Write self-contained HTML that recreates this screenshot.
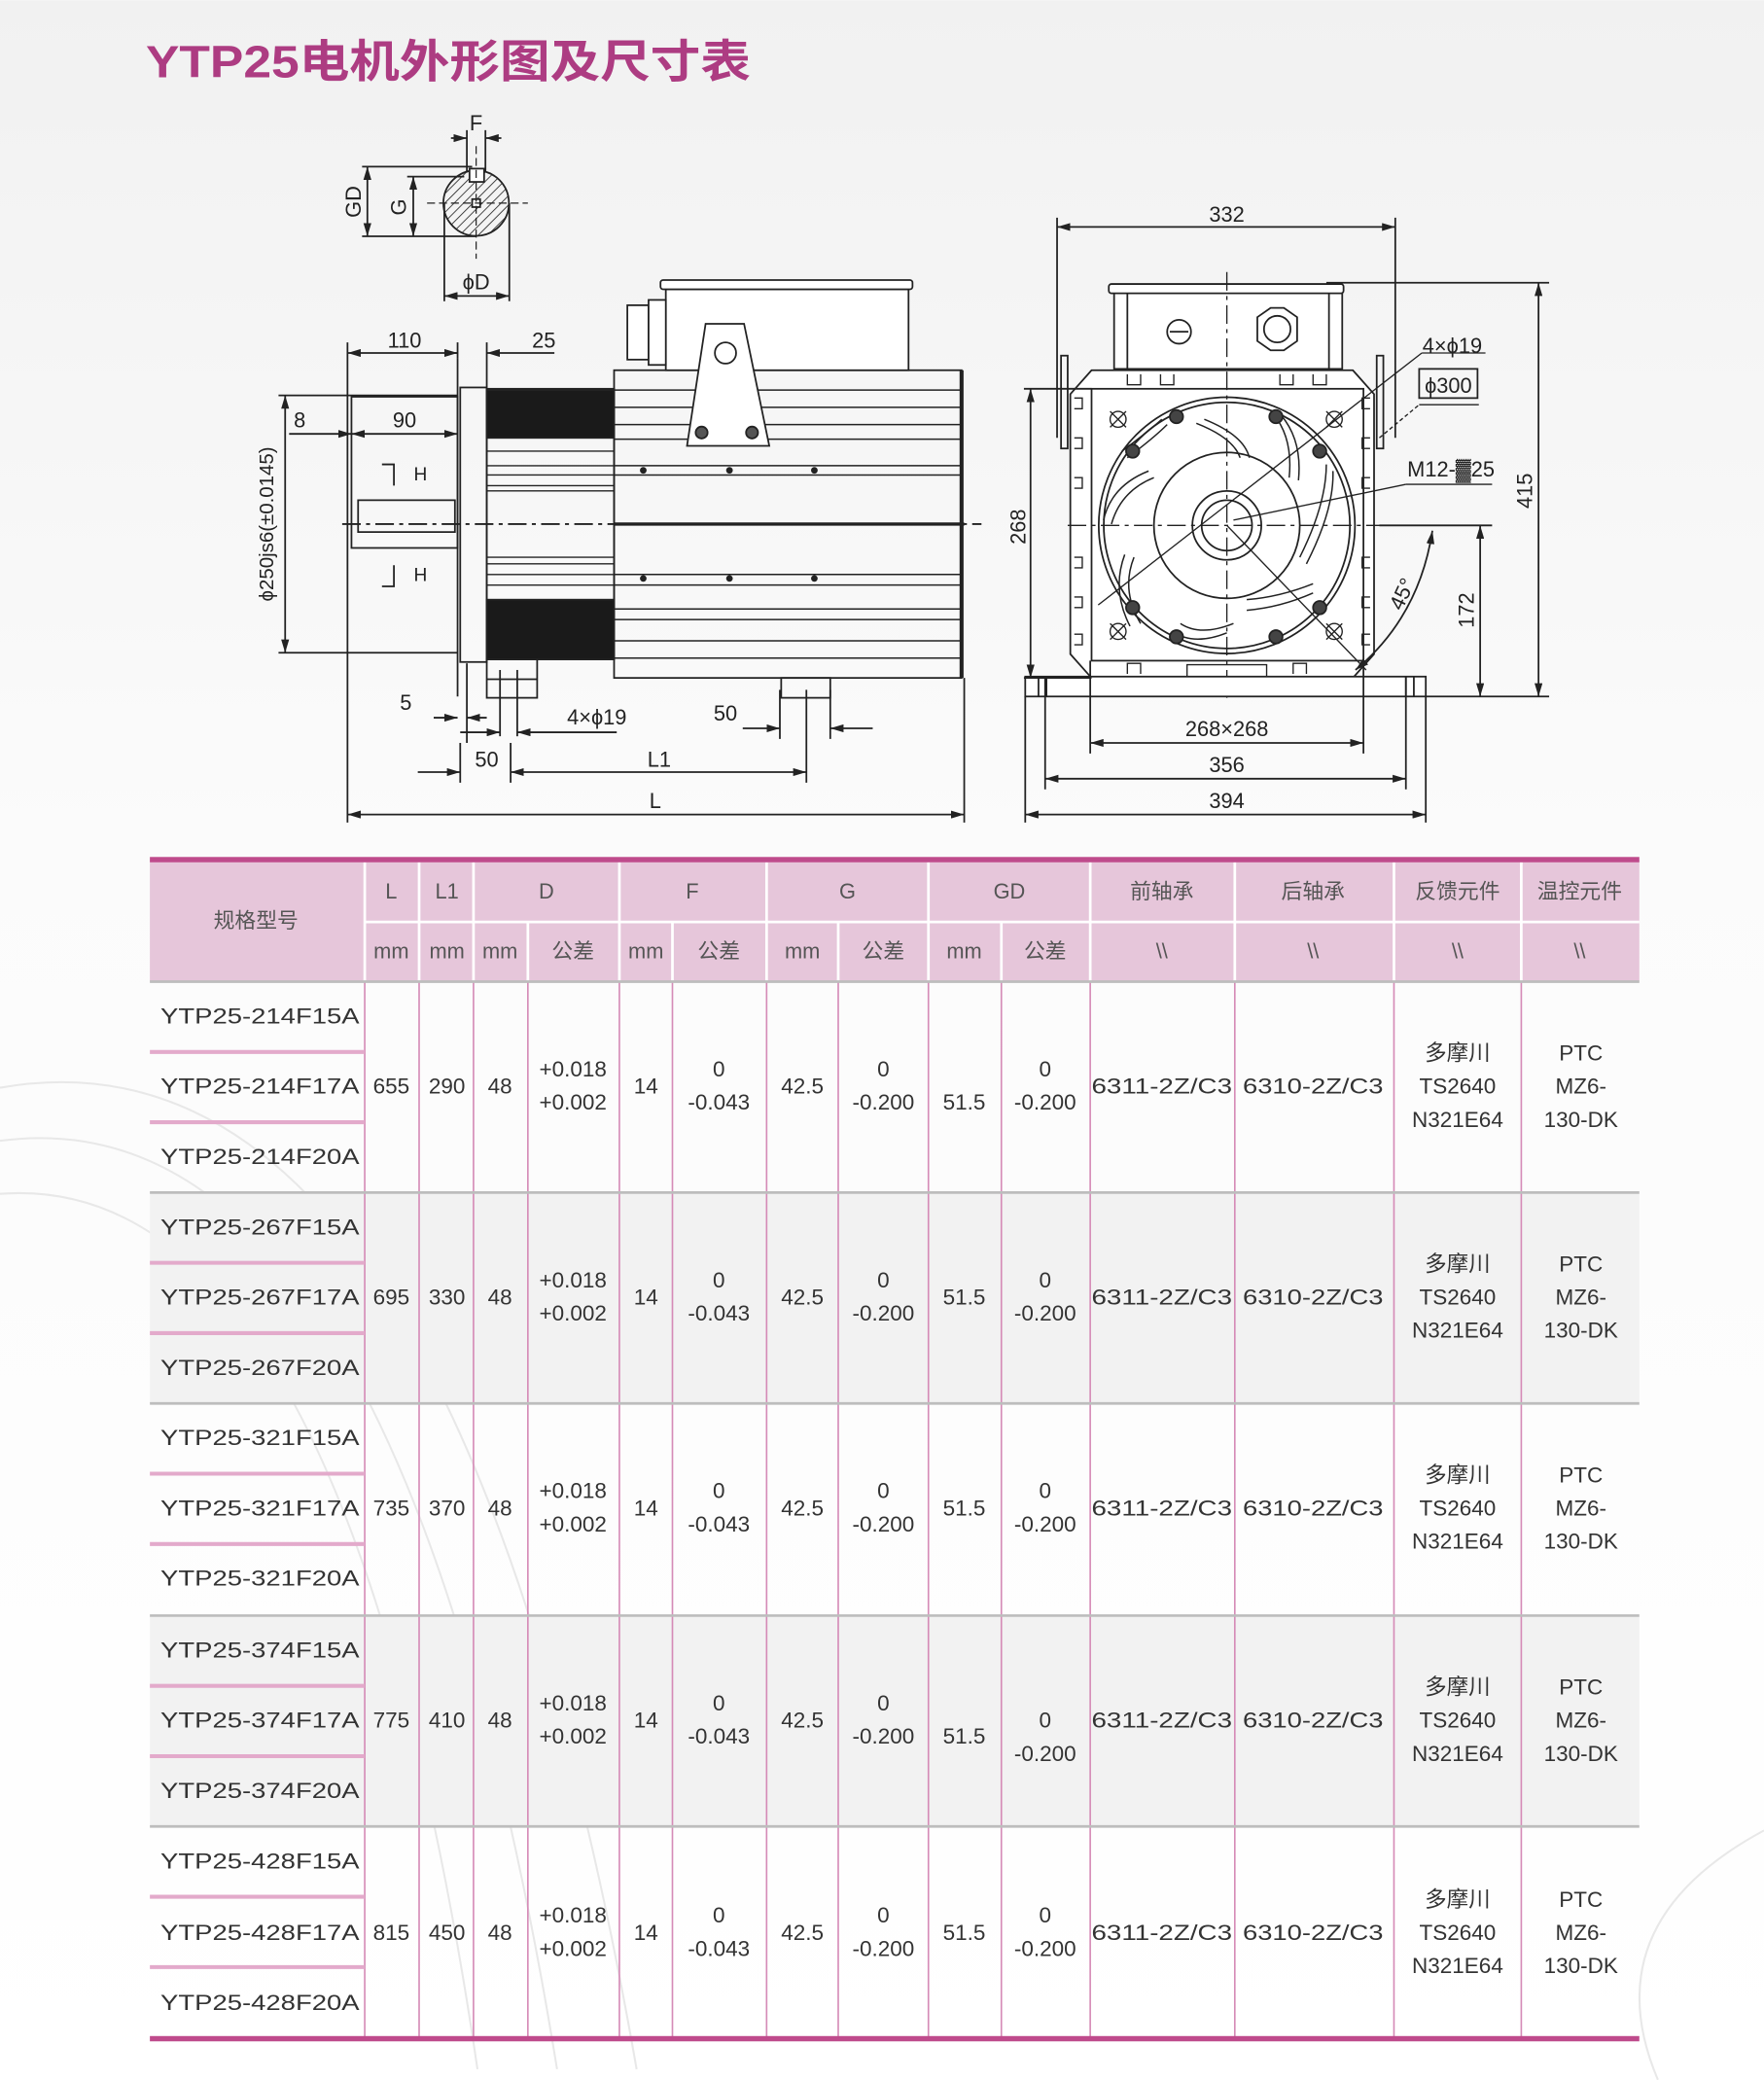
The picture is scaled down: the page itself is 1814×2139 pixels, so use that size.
<!DOCTYPE html>
<html><head><meta charset="utf-8"><style>
html,body{margin:0;padding:0;width:1814px;height:2139px;overflow:hidden;background:#fff}
svg{display:block}
text{font-family:"Liberation Sans","Noto Sans CJK SC",sans-serif}
</style></head><body>
<svg width="1814" height="2139" viewBox="0 0 1330 1568" xmlns="http://www.w3.org/2000/svg">
<defs>
<linearGradient id="bg" x1="0" y1="0" x2="0" y2="1">
<stop offset="0" stop-color="#f1f1f1"/><stop offset="0.4" stop-color="#fbfbfb"/><stop offset="1" stop-color="#ffffff"/>
</linearGradient>
<marker id="a" viewBox="0 0 10 6" refX="10" refY="3" markerWidth="10" markerHeight="6" orient="auto-start-reverse" markerUnits="userSpaceOnUse"><path d="M0,0L10,3L0,6z" fill="#222"/></marker>
<pattern id="h" width="5" height="5" patternUnits="userSpaceOnUse" patternTransform="rotate(45)"><line x1="0" y1="0" x2="0" y2="5" stroke="#222" stroke-width="1.2"/></pattern>
</defs>
<rect width="1330" height="1568" fill="url(#bg)"/>
<g fill="none" stroke="#e8e8e8" stroke-width="1.5">
<path d="M0,860 Q300,820 420,1560"/><path d="M0,900 Q260,880 360,1560"/><path d="M0,820 Q340,760 480,1560"/>
<path d="M1330,1380 Q1200,1450 1250,1568"/>
</g>
<text x="110" y="58" font-size="34" font-weight="bold" fill="#ad3c82" textLength="456" lengthAdjust="spacingAndGlyphs">YTP25电机外形图及尺寸表</text>

<!-- ===== DRAWING ===== -->
<g stroke="#222" stroke-width="1.3" fill="none">
<!-- shaft section -->
<circle cx="359" cy="153" r="24.7" fill="url(#h)"/>
<rect x="354" y="127" width="11" height="10" fill="#fff"/>
<rect x="356" y="150" width="6" height="6" fill="#fff"/>
<line x1="322" y1="153" x2="398" y2="153" stroke-dasharray="6,3" stroke-width="0.9"/>
<line x1="359" y1="110" x2="359" y2="195" stroke-dasharray="6,3" stroke-width="0.9"/>
<line x1="273" y1="125.5" x2="356" y2="125.5"/>
<line x1="273" y1="178" x2="359" y2="178"/>
<line x1="277" y1="125.5" x2="277" y2="178" marker-start="url(#a)" marker-end="url(#a)"/>
<line x1="307" y1="133" x2="350" y2="133"/>
<line x1="311.6" y1="133" x2="311.6" y2="178" marker-start="url(#a)" marker-end="url(#a)"/>
<line x1="352" y1="98" x2="352" y2="130"/><line x1="366" y1="98" x2="366" y2="130"/>
<line x1="340" y1="104" x2="352" y2="104" marker-end="url(#a)"/><line x1="378" y1="104" x2="366" y2="104" marker-end="url(#a)"/>
<line x1="335" y1="153" x2="335" y2="227"/><line x1="384" y1="153" x2="384" y2="227"/>
<line x1="335" y1="223" x2="384" y2="223" marker-start="url(#a)" marker-end="url(#a)"/>

<!-- side view -->
<rect x="265" y="299" width="80" height="114"/>
<path d="M270,377 H343 V401 H270 Z"/>
<line x1="258" y1="395" x2="740" y2="395" stroke-dasharray="14,4,3,4"/>
<rect x="347" y="292" width="20" height="207"/>
<line x1="345" y1="270" x2="345" y2="525"/>
<rect x="367" y="293" width="96" height="204"/>
<rect x="367" y="294" width="96" height="36" fill="#1a1a1a"/>
<rect x="367" y="452" width="96" height="45" fill="#1a1a1a"/>
<g stroke-width="1"><line x1="367" y1="340" x2="463" y2="340"/><line x1="367" y1="351" x2="463" y2="351"/><line x1="367" y1="358" x2="463" y2="358"/><line x1="367" y1="366" x2="463" y2="366"/><line x1="367" y1="370" x2="463" y2="370"/><line x1="367" y1="420" x2="463" y2="420"/><line x1="367" y1="425" x2="463" y2="425"/><line x1="367" y1="433" x2="463" y2="433"/><line x1="367" y1="441" x2="463" y2="441"/></g>
<rect x="463" y="279" width="262" height="232"/>
<g stroke-width="1.1"><line x1="463" y1="294" x2="725" y2="294"/><line x1="463" y1="307" x2="725" y2="307"/><line x1="463" y1="320" x2="725" y2="320"/><line x1="463" y1="331" x2="725" y2="331"/><line x1="463" y1="351" x2="725" y2="351"/><line x1="463" y1="358" x2="725" y2="358"/><line x1="463" y1="433" x2="725" y2="433"/><line x1="463" y1="441" x2="725" y2="441"/><line x1="463" y1="459" x2="725" y2="459"/><line x1="463" y1="467" x2="725" y2="467"/><line x1="463" y1="483" x2="725" y2="483"/><line x1="463" y1="496" x2="725" y2="496"/></g>
<line x1="463" y1="395" x2="727" y2="395" stroke-width="2.5"/>
<line x1="725" y1="279" x2="725" y2="511" stroke-width="3"/>
<g fill="#222" stroke="none"><circle cx="485" cy="354.5" r="2.5"/><circle cx="550" cy="354.5" r="2.5"/><circle cx="614" cy="354.5" r="2.5"/><circle cx="485" cy="436" r="2.5"/><circle cx="550" cy="436" r="2.5"/><circle cx="614" cy="436" r="2.5"/></g>
<rect x="502" y="218" width="183" height="61" fill="#fff"/>
<rect x="498" y="211" width="190" height="7" rx="2" fill="#fff"/>
<rect x="473" y="230" width="16" height="41" fill="#fff"/><rect x="489" y="226" width="13" height="49" fill="#fff"/>
<path d="M518,336 L532,244 H561 L580,336 Z" fill="#fff"/>
<circle cx="547" cy="266" r="8"/>
<circle cx="529" cy="326" r="4.5" fill="#555"/><circle cx="567" cy="326" r="4.5" fill="#555"/>
<rect x="367" y="497" width="38" height="29"/><line x1="367" y1="512" x2="405" y2="512"/>
<rect x="589" y="511" width="37" height="15"/>
<!-- side dims -->
<line x1="262" y1="258" x2="262" y2="620"/>
<line x1="345" y1="258" x2="345" y2="270"/>
<line x1="367" y1="258" x2="367" y2="292"/>
<line x1="727" y1="511" x2="727" y2="620"/>
<line x1="262" y1="266" x2="345" y2="266" marker-start="url(#a)" marker-end="url(#a)"/>
<line x1="367" y1="266" x2="418" y2="266" marker-start="url(#a)"/>
<line x1="335" y1="266" x2="345" y2="266"/>
<line x1="210" y1="298" x2="345" y2="298"/><line x1="210" y1="492" x2="345" y2="492"/>
<line x1="215" y1="298" x2="215" y2="492" marker-start="url(#a)" marker-end="url(#a)"/>
<line x1="218" y1="327" x2="265" y2="327" marker-end="url(#a)"/>
<line x1="265" y1="327" x2="345" y2="327" marker-start="url(#a)" marker-end="url(#a)"/>
<path d="M288,350 H297 V366"/><path d="M288,442 H297 V426"/>
<line x1="327" y1="541" x2="345" y2="541" marker-end="url(#a)"/><line x1="367" y1="541" x2="352" y2="541" marker-end="url(#a)"/>
<line x1="352" y1="500" x2="352" y2="560"/>
<line x1="377" y1="505" x2="377" y2="555"/><line x1="390" y1="505" x2="390" y2="555"/>
<line x1="347" y1="552" x2="377" y2="552" marker-end="url(#a)"/>
<line x1="390" y1="552" x2="465" y2="552" marker-start="url(#a)"/>
<line x1="588" y1="520" x2="588" y2="557"/><line x1="626" y1="520" x2="626" y2="557"/>
<line x1="560" y1="549" x2="588" y2="549" marker-end="url(#a)"/>
<line x1="658" y1="549" x2="626" y2="549" marker-end="url(#a)"/>
<line x1="347" y1="560" x2="347" y2="590"/>
<line x1="385" y1="560" x2="385" y2="590"/><line x1="608" y1="520" x2="608" y2="590"/>
<line x1="315" y1="582" x2="347" y2="582" marker-end="url(#a)"/>
<line x1="385" y1="582" x2="608" y2="582" marker-start="url(#a)" marker-end="url(#a)"/>
<line x1="262" y1="614" x2="727" y2="614" marker-start="url(#a)" marker-end="url(#a)"/>

<!-- end view -->
<path d="M830,279 H1020 L1036,297 V493 L1020,511 H823 L807,493 V297 L823,279 Z" fill="#fff"/>
<rect x="823" y="293" width="205" height="205"/>
<g stroke-width="1">
<path d="M810,300 h6 v8 h-6 M810,330 h6 v8 h-6 M810,360 h6 v8 h-6 M810,420 h6 v8 h-6 M810,450 h6 v8 h-6 M810,478 h6 v8 h-6"/>
<path d="M1033,300 h-6 v8 h6 M1033,330 h-6 v8 h6 M1033,360 h-6 v8 h6 M1033,420 h-6 v8 h6 M1033,450 h-6 v8 h6 M1033,478 h-6 v8 h6"/>
<path d="M850,282 v8 h10 v-8 M875,282 v8 h10 v-8 M965,282 v8 h10 v-8 M990,282 v8 h10 v-8"/>
<path d="M850,508 v-8 h10 v8 M975,508 v-8 h10 v8 M895,511 v-10 h60 v10"/>
</g>
<rect x="840" y="221" width="172" height="57" fill="#fff"/>
<rect x="836" y="214" width="177" height="7" rx="2" fill="#fff"/>
<line x1="850" y1="221" x2="850" y2="278"/><line x1="1002" y1="221" x2="1002" y2="278"/>
<circle cx="889" cy="250" r="9"/><line x1="882" y1="250" x2="896" y2="250"/>
<path d="M948,239 L958,232 H968 L978,239 V257 L968,264 H958 L948,257 Z"/><circle cx="963" cy="248" r="10"/>
<rect x="800" y="268" width="5" height="70"/><rect x="1038" y="268" width="5" height="70"/>
<circle cx="925" cy="396" r="96.6"/><circle cx="925" cy="396" r="92.8"/>
<circle cx="925" cy="396" r="55"/><circle cx="925" cy="396" r="26"/><circle cx="925" cy="396" r="19"/>
<g stroke-width="1.1">
<path d="M902,319 Q930,330 935,345 M960,312 Q975,330 972,360 M1000,350 Q1000,380 980,420 M990,440 Q965,450 940,452 M930,470 Q905,480 890,470 M860,470 Q845,445 855,420 M838,395 Q845,370 870,360 M850,345 Q870,330 880,320"/>
<path d="M908,316 Q938,328 942,345 M966,313 Q982,332 979,362 M1005,355 Q1006,384 985,425 M990,447 Q965,458 940,460 M925,477 Q900,487 884,476 M852,472 Q838,445 848,418 M832,392 Q838,366 866,355 M846,340 Q866,325 876,316"/>
</g>
<g stroke-width="1"><line x1="925" y1="205" x2="925" y2="530" stroke-dasharray="14,4,3,4"/><line x1="805" y1="396" x2="1120" y2="396" stroke-dasharray="14,4,3,4"/></g>
<g fill="#444" stroke="#222">
<circle cx="854" cy="340" r="5"/><circle cx="995" cy="340" r="5"/><circle cx="854" cy="458" r="5"/><circle cx="995" cy="458" r="5"/>
<circle cx="887" cy="314" r="5"/><circle cx="962" cy="314" r="5"/><circle cx="887" cy="480" r="5"/><circle cx="962" cy="480" r="5"/>
</g>
<g stroke-width="1"><circle cx="843" cy="316" r="6"/><path d="M837,310 l12,12 M849,310 l-12,12"/>
<circle cx="1006" cy="316" r="6"/><path d="M1000,310 l12,12 M1012,310 l-12,12"/>
<circle cx="843" cy="476" r="6"/><path d="M837,470 l12,12 M849,470 l-12,12"/>
<circle cx="1006" cy="476" r="6"/><path d="M1000,470 l12,12 M1012,470 l-12,12"/></g>
<rect x="773" y="510" width="302" height="15" fill="#fff"/>
<line x1="783" y1="510" x2="783" y2="525"/><line x1="789" y1="510" x2="789" y2="525"/>
<line x1="1060" y1="510" x2="1060" y2="525"/><line x1="1066" y1="510" x2="1066" y2="525"/>
<!-- end dims -->
<line x1="797" y1="164" x2="797" y2="330"/><line x1="1052" y1="164" x2="1052" y2="330"/>
<line x1="797" y1="171" x2="1052" y2="171" marker-start="url(#a)" marker-end="url(#a)"/>
<line x1="772" y1="293" x2="823" y2="293"/><line x1="772" y1="511" x2="823" y2="511"/>
<line x1="777" y1="293" x2="777" y2="511" marker-start="url(#a)" marker-end="url(#a)"/>
<line x1="1000" y1="213" x2="1168" y2="213"/><line x1="1075" y1="525" x2="1168" y2="525"/>
<line x1="1160" y1="213" x2="1160" y2="525" marker-start="url(#a)" marker-end="url(#a)"/>
<line x1="1040" y1="396" x2="1125" y2="396"/>
<line x1="1116" y1="396" x2="1116" y2="525" marker-start="url(#a)" marker-end="url(#a)"/>
<path d="M1080,400 Q1070,465 1022,505" marker-start="url(#a)" marker-end="url(#a)"/>
<line x1="925" y1="396" x2="1030" y2="505" stroke-width="1"/>
<line x1="822" y1="498" x2="822" y2="568"/><line x1="1028" y1="498" x2="1028" y2="568"/>
<line x1="822" y1="560" x2="1028" y2="560" marker-start="url(#a)" marker-end="url(#a)"/>
<line x1="788" y1="510" x2="788" y2="595"/><line x1="1060" y1="510" x2="1060" y2="595"/>
<line x1="788" y1="587" x2="1060" y2="587" marker-start="url(#a)" marker-end="url(#a)"/>
<line x1="773" y1="525" x2="773" y2="620"/><line x1="1075" y1="525" x2="1075" y2="620"/>
<line x1="773" y1="614" x2="1075" y2="614" marker-start="url(#a)" marker-end="url(#a)"/>
<line x1="828" y1="456" x2="1072" y2="266" stroke-width="1"/>
<line x1="1072" y1="266" x2="1120" y2="266" stroke-width="1"/>
<rect x="1070" y="278" width="44" height="22"/>
<line x1="1070" y1="305" x2="1115" y2="305" stroke-width="1"/>
<line x1="1040" y1="330" x2="1070" y2="305" stroke-width="1" stroke-dasharray="3,2"/>
<line x1="930" y1="392" x2="1060" y2="365" stroke-width="1"/><line x1="1060" y1="365" x2="1125" y2="365" stroke-width="1"/>
</g>
<g font-size="16" fill="#222" font-family="Liberation Sans Narrow, Liberation Sans, sans-serif">
<text x="354" y="98">F</text>
<text transform="translate(272,152) rotate(-90)" text-anchor="middle">GD</text>
<text transform="translate(306,156) rotate(-90)" text-anchor="middle">G</text>
<text x="359" y="218" text-anchor="middle">ϕD</text>
<text x="305" y="262" text-anchor="middle">110</text>
<text x="410" y="262" text-anchor="middle">25</text>
<text x="226" y="322" text-anchor="middle">8</text>
<text x="305" y="322" text-anchor="middle">90</text>
<text x="312" y="362" font-size="14">H</text><text x="312" y="438" font-size="14">H</text>
<text transform="translate(206,395) rotate(-90)" text-anchor="middle" font-size="15">ϕ250js6(±0.0145)</text>
<text x="306" y="535" text-anchor="middle">5</text>
<text x="450" y="546" text-anchor="middle">4×ϕ19</text>
<text x="547" y="543" text-anchor="middle">50</text>
<text x="367" y="578" text-anchor="middle">50</text>
<text x="497" y="578" text-anchor="middle">L1</text>
<text x="494" y="609" text-anchor="middle">L</text>
<text x="925" y="167" text-anchor="middle">332</text>
<text x="1095" y="266" text-anchor="middle">4×ϕ19</text>
<text x="1092" y="296" text-anchor="middle">ϕ300</text>
<text x="1094" y="359" text-anchor="middle">M12-▓25</text>
<text transform="translate(773,397) rotate(-90)" text-anchor="middle">268</text>
<text transform="translate(1155,370) rotate(-90)" text-anchor="middle">415</text>
<text transform="translate(1111,460) rotate(-90)" text-anchor="middle">172</text>
<text transform="translate(1062,450) rotate(-65)" text-anchor="middle">45°</text>
<text x="925" y="555" text-anchor="middle">268×268</text>
<text x="925" y="582" text-anchor="middle">356</text>
<text x="925" y="609" text-anchor="middle">394</text>
</g>

<!-- ===== TABLE ===== -->
<rect x="113" y="648" width="1123" height="92" fill="#e6c6da"/>
<rect x="113" y="899" width="1123" height="159" fill="#f2f2f2"/>
<rect x="113" y="1218" width="1123" height="159" fill="#f2f2f2"/>
<g stroke="#fff" stroke-width="2">
<line x1="275" y1="695" x2="1236" y2="695"/>
<line x1="275" y1="650" x2="275" y2="740"/><line x1="316" y1="650" x2="316" y2="740"/><line x1="357" y1="650" x2="357" y2="740"/>
<line x1="398" y1="695" x2="398" y2="740"/><line x1="467" y1="650" x2="467" y2="740"/><line x1="507" y1="695" x2="507" y2="740"/>
<line x1="578" y1="650" x2="578" y2="740"/><line x1="632" y1="695" x2="632" y2="740"/><line x1="700" y1="650" x2="700" y2="740"/>
<line x1="755" y1="695" x2="755" y2="740"/><line x1="822" y1="650" x2="822" y2="740"/><line x1="931" y1="650" x2="931" y2="740"/>
<line x1="1051" y1="650" x2="1051" y2="740"/><line x1="1147" y1="650" x2="1147" y2="740"/>
</g>
<g stroke="#d58bb7" stroke-width="1.2">
<line x1="275" y1="740" x2="275" y2="1536"/><line x1="316" y1="740" x2="316" y2="1536"/><line x1="357" y1="740" x2="357" y2="1536"/>
<line x1="398" y1="740" x2="398" y2="1536"/><line x1="467" y1="740" x2="467" y2="1536"/><line x1="507" y1="740" x2="507" y2="1536"/>
<line x1="578" y1="740" x2="578" y2="1536"/><line x1="632" y1="740" x2="632" y2="1536"/><line x1="700" y1="740" x2="700" y2="1536"/>
<line x1="755" y1="740" x2="755" y2="1536"/><line x1="822" y1="740" x2="822" y2="1536"/><line x1="931" y1="740" x2="931" y2="1536"/>
<line x1="1051" y1="740" x2="1051" y2="1536"/><line x1="1147" y1="740" x2="1147" y2="1536"/>
</g>
<g stroke="#bdbdbd" stroke-width="2">
<line x1="113" y1="740" x2="1236" y2="740"/><line x1="113" y1="899" x2="1236" y2="899"/><line x1="113" y1="1058" x2="1236" y2="1058"/>
<line x1="113" y1="1218" x2="1236" y2="1218"/><line x1="113" y1="1377" x2="1236" y2="1377"/>
</g>
<g stroke="#e3aacb" stroke-width="3">
<line x1="113" y1="793" x2="275" y2="793"/><line x1="113" y1="846" x2="275" y2="846"/>
<line x1="113" y1="952" x2="275" y2="952"/><line x1="113" y1="1005" x2="275" y2="1005"/>
<line x1="113" y1="1111" x2="275" y2="1111"/><line x1="113" y1="1164" x2="275" y2="1164"/>
<line x1="113" y1="1271" x2="275" y2="1271"/><line x1="113" y1="1324" x2="275" y2="1324"/>
<line x1="113" y1="1430" x2="275" y2="1430"/><line x1="113" y1="1483" x2="275" y2="1483"/>
</g>
<rect x="113" y="646" width="1123" height="4" fill="#bf4b8c"/>
<rect x="113" y="1535" width="1123" height="4" fill="#bf4b8c"/>

<g font-size="16" fill="#555" text-anchor="middle" dominant-baseline="central">
<text x="193" y="694">规格型号</text>
<text x="295" y="672">L</text><text x="337" y="672">L1</text><text x="412" y="672">D</text><text x="522" y="672">F</text>
<text x="639" y="672">G</text><text x="761" y="672">GD</text><text x="876" y="672">前轴承</text><text x="990" y="672">后轴承</text>
<text x="1099" y="672">反馈元件</text><text x="1191" y="672">温控元件</text>
<text x="295" y="717">mm</text><text x="337" y="717">mm</text><text x="377" y="717">mm</text><text x="432" y="717">公差</text>
<text x="487" y="717">mm</text><text x="542" y="717">公差</text><text x="605" y="717">mm</text><text x="666" y="717">公差</text>
<text x="727" y="717">mm</text><text x="788" y="717">公差</text>
<text x="876" y="717">\\</text><text x="990" y="717">\\</text><text x="1099" y="717">\\</text><text x="1191" y="717">\\</text>
</g>

<g font-size="16.5" fill="#333" text-anchor="middle" dominant-baseline="central">
<g transform="translate(0,740)">
<text x="121" y="26" text-anchor="start" textLength="150" lengthAdjust="spacingAndGlyphs">YTP25-214F15A</text>
<text x="121" y="79" text-anchor="start" textLength="150" lengthAdjust="spacingAndGlyphs">YTP25-214F17A</text>
<text x="121" y="132" text-anchor="start" textLength="150" lengthAdjust="spacingAndGlyphs">YTP25-214F20A</text>
<text x="295" y="79">655</text><text x="337" y="79">290</text><text x="377" y="79">48</text>
<text x="432" y="66">+0.018</text><text x="432" y="91">+0.002</text><text x="487" y="79">14</text>
<text x="542" y="66">0</text><text x="542" y="91">-0.043</text><text x="605" y="79">42.5</text>
<text x="666" y="66">0</text><text x="666" y="91">-0.200</text><text x="727" y="91">51.5</text>
<text x="788" y="66">0</text><text x="788" y="91">-0.200</text>
<text x="876" y="79" textLength="106" lengthAdjust="spacingAndGlyphs">6311-2Z/C3</text><text x="990" y="79" textLength="106" lengthAdjust="spacingAndGlyphs">6310-2Z/C3</text>
<text x="1099" y="54">多摩川</text><text x="1099" y="79">TS2640</text><text x="1099" y="104">N321E64</text>
<text x="1192" y="54">PTC</text><text x="1192" y="79">MZ6-</text><text x="1192" y="104">130-DK</text>
</g>
<g transform="translate(0,899)">
<text x="121" y="26" text-anchor="start" textLength="150" lengthAdjust="spacingAndGlyphs">YTP25-267F15A</text>
<text x="121" y="79" text-anchor="start" textLength="150" lengthAdjust="spacingAndGlyphs">YTP25-267F17A</text>
<text x="121" y="132" text-anchor="start" textLength="150" lengthAdjust="spacingAndGlyphs">YTP25-267F20A</text>
<text x="295" y="79">695</text><text x="337" y="79">330</text><text x="377" y="79">48</text>
<text x="432" y="66">+0.018</text><text x="432" y="91">+0.002</text><text x="487" y="79">14</text>
<text x="542" y="66">0</text><text x="542" y="91">-0.043</text><text x="605" y="79">42.5</text>
<text x="666" y="66">0</text><text x="666" y="91">-0.200</text><text x="727" y="79">51.5</text>
<text x="788" y="66">0</text><text x="788" y="91">-0.200</text>
<text x="876" y="79" textLength="106" lengthAdjust="spacingAndGlyphs">6311-2Z/C3</text><text x="990" y="79" textLength="106" lengthAdjust="spacingAndGlyphs">6310-2Z/C3</text>
<text x="1099" y="54">多摩川</text><text x="1099" y="79">TS2640</text><text x="1099" y="104">N321E64</text>
<text x="1192" y="54">PTC</text><text x="1192" y="79">MZ6-</text><text x="1192" y="104">130-DK</text>
</g>
<g transform="translate(0,1058)">
<text x="121" y="26" text-anchor="start" textLength="150" lengthAdjust="spacingAndGlyphs">YTP25-321F15A</text>
<text x="121" y="79" text-anchor="start" textLength="150" lengthAdjust="spacingAndGlyphs">YTP25-321F17A</text>
<text x="121" y="132" text-anchor="start" textLength="150" lengthAdjust="spacingAndGlyphs">YTP25-321F20A</text>
<text x="295" y="79">735</text><text x="337" y="79">370</text><text x="377" y="79">48</text>
<text x="432" y="66">+0.018</text><text x="432" y="91">+0.002</text><text x="487" y="79">14</text>
<text x="542" y="66">0</text><text x="542" y="91">-0.043</text><text x="605" y="79">42.5</text>
<text x="666" y="66">0</text><text x="666" y="91">-0.200</text><text x="727" y="79">51.5</text>
<text x="788" y="66">0</text><text x="788" y="91">-0.200</text>
<text x="876" y="79" textLength="106" lengthAdjust="spacingAndGlyphs">6311-2Z/C3</text><text x="990" y="79" textLength="106" lengthAdjust="spacingAndGlyphs">6310-2Z/C3</text>
<text x="1099" y="54">多摩川</text><text x="1099" y="79">TS2640</text><text x="1099" y="104">N321E64</text>
<text x="1192" y="54">PTC</text><text x="1192" y="79">MZ6-</text><text x="1192" y="104">130-DK</text>
</g>
<g transform="translate(0,1218)">
<text x="121" y="26" text-anchor="start" textLength="150" lengthAdjust="spacingAndGlyphs">YTP25-374F15A</text>
<text x="121" y="79" text-anchor="start" textLength="150" lengthAdjust="spacingAndGlyphs">YTP25-374F17A</text>
<text x="121" y="132" text-anchor="start" textLength="150" lengthAdjust="spacingAndGlyphs">YTP25-374F20A</text>
<text x="295" y="79">775</text><text x="337" y="79">410</text><text x="377" y="79">48</text>
<text x="432" y="66">+0.018</text><text x="432" y="91">+0.002</text><text x="487" y="79">14</text>
<text x="542" y="66">0</text><text x="542" y="91">-0.043</text><text x="605" y="79">42.5</text>
<text x="666" y="66">0</text><text x="666" y="91">-0.200</text><text x="727" y="91">51.5</text>
<text x="788" y="79">0</text><text x="788" y="104">-0.200</text>
<text x="876" y="79" textLength="106" lengthAdjust="spacingAndGlyphs">6311-2Z/C3</text><text x="990" y="79" textLength="106" lengthAdjust="spacingAndGlyphs">6310-2Z/C3</text>
<text x="1099" y="54">多摩川</text><text x="1099" y="79">TS2640</text><text x="1099" y="104">N321E64</text>
<text x="1192" y="54">PTC</text><text x="1192" y="79">MZ6-</text><text x="1192" y="104">130-DK</text>
</g>
<g transform="translate(0,1377)">
<text x="121" y="26" text-anchor="start" textLength="150" lengthAdjust="spacingAndGlyphs">YTP25-428F15A</text>
<text x="121" y="80" text-anchor="start" textLength="150" lengthAdjust="spacingAndGlyphs">YTP25-428F17A</text>
<text x="121" y="133" text-anchor="start" textLength="150" lengthAdjust="spacingAndGlyphs">YTP25-428F20A</text>
<text x="295" y="80">815</text><text x="337" y="80">450</text><text x="377" y="80">48</text>
<text x="432" y="67">+0.018</text><text x="432" y="92">+0.002</text><text x="487" y="80">14</text>
<text x="542" y="67">0</text><text x="542" y="92">-0.043</text><text x="605" y="80">42.5</text>
<text x="666" y="67">0</text><text x="666" y="92">-0.200</text><text x="727" y="80">51.5</text>
<text x="788" y="67">0</text><text x="788" y="92">-0.200</text>
<text x="876" y="80" textLength="106" lengthAdjust="spacingAndGlyphs">6311-2Z/C3</text><text x="990" y="80" textLength="106" lengthAdjust="spacingAndGlyphs">6310-2Z/C3</text>
<text x="1099" y="55">多摩川</text><text x="1099" y="80">TS2640</text><text x="1099" y="105">N321E64</text>
<text x="1192" y="55">PTC</text><text x="1192" y="80">MZ6-</text><text x="1192" y="105">130-DK</text>
</g>
</g>
</svg>
</body></html>
